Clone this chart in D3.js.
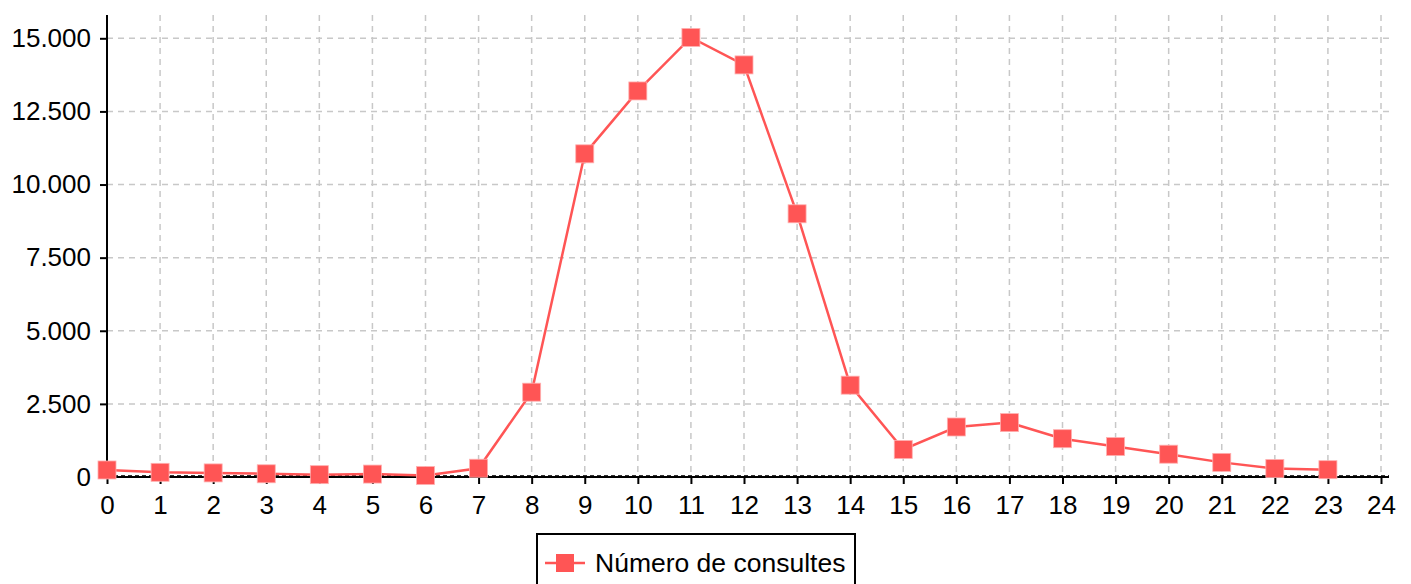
<!DOCTYPE html>
<html><head><meta charset="utf-8">
<script src="https://cdn.jsdelivr.net/npm/d3@7"></script>
<style>
html,body{margin:0;padding:0;background:#fff;}
svg text{font-family:"Liberation Sans",Arial,sans-serif;}
</style></head>
<body>
<svg id="chart" width="1411" height="584"></svg>
<script>
const hours = [0,1,2,3,4,5,6,7,8,9,10,11,12,13,14,15,16,17,18,19,20,21,22,23];
const consultes = [240,160,140,110,80,100,50,300,2900,11050,13200,15030,14090,9000,3140,940,1710,1860,1310,1040,780,500,290,250];
const xTicks = d3.range(0,25);
const yTicks = [0,2500,5000,7500,10000,12500,15000];
const seriesName = "Número de consultes";
const color = "#ff5555";

const svg = d3.select("#chart");
const L = 107, R = 1389, T = 15, B = 477;
const x = d3.scaleLinear().domain([0,24]).range([L,1381]);
const y = d3.scaleLinear().domain([0,15000]).range([B,38.3]);
const fmt = d => d3.format(",")(d).replace(/,/g,".");

// grid
const g = svg.append("g");
g.selectAll("line.vg").data(xTicks.slice(1)).enter().append("line")
  .attr("x1",d=>x(d)).attr("x2",d=>x(d)).attr("y1",T).attr("y2",B)
  .attr("stroke","#c8c8c8").attr("stroke-width",1.5).attr("stroke-dasharray","6,5");
g.selectAll("line.hg").data(yTicks.slice(1)).enter().append("line")
  .attr("x1",L).attr("x2",R).attr("y1",d=>y(d)).attr("y2",d=>y(d))
  .attr("stroke","#c8c8c8").attr("stroke-width",1.5).attr("stroke-dasharray","6,5");

// axes
const yAxis = d3.axisLeft(y).tickValues(yTicks).tickFormat(fmt).tickSize(7).tickPadding(9);
const ya = svg.append("g").attr("transform",`translate(${L},0)`).call(yAxis);
ya.select(".domain").remove();
ya.selectAll(".tick line").attr("stroke","#000").attr("stroke-width",2);
ya.selectAll(".tick text").attr("font-size",26).attr("fill","#000").attr("font-family","Liberation Sans, Arial, sans-serif");

const xAxis = d3.axisBottom(x).tickValues(xTicks).tickFormat(d3.format("d")).tickSize(7).tickPadding(12);
const xa = svg.append("g").attr("transform",`translate(0,${B})`).call(xAxis);
xa.select(".domain").remove();
xa.selectAll(".tick line").attr("stroke","#000").attr("stroke-width",2);
xa.selectAll(".tick text").attr("font-size",26).attr("fill","#000").attr("font-family","Liberation Sans, Arial, sans-serif");

svg.append("line").attr("x1",L).attr("x2",L).attr("y1",T).attr("y2",B+1).attr("stroke","#000").attr("stroke-width",2);
svg.append("line").attr("x1",L).attr("x2",R).attr("y1",B).attr("y2",B).attr("stroke","#000").attr("stroke-width",2);
svg.append("line").attr("x1",L).attr("x2",R).attr("y1",B-1.5).attr("y2",B-1.5).attr("stroke","#333").attr("stroke-width",1).attr("stroke-dasharray","4,3");

// line
const line = d3.line().x((d,i)=>x(hours[i])).y(d=>y(d));
svg.append("path").datum(consultes).attr("d",line).attr("fill","none").attr("stroke",color).attr("stroke-width",2.5);
const ms = 18;
svg.selectAll("rect.pt").data(consultes).enter().append("rect")
  .attr("x",(d,i)=>x(hours[i])-ms/2).attr("y",d=>y(d)-ms/2).attr("width",ms).attr("height",ms)
  .attr("fill",color).attr("stroke","#ffb0b0").attr("stroke-width",0.8);

// legend
const lg = svg.append("g");
lg.append("rect").attr("x",537).attr("y",534).attr("width",318).attr("height",60).attr("fill","#fff").attr("stroke","#000").attr("stroke-width",2);
lg.append("line").attr("x1",545).attr("x2",585).attr("y1",563).attr("y2",563).attr("stroke",color).attr("stroke-width",2.5);
lg.append("rect").attr("x",556).attr("y",554).attr("width",18).attr("height",18).attr("fill",color);
lg.append("text").attr("x",595).attr("y",572).attr("font-size",26.5).attr("fill","#000").text(seriesName);
</script>
</body></html>
